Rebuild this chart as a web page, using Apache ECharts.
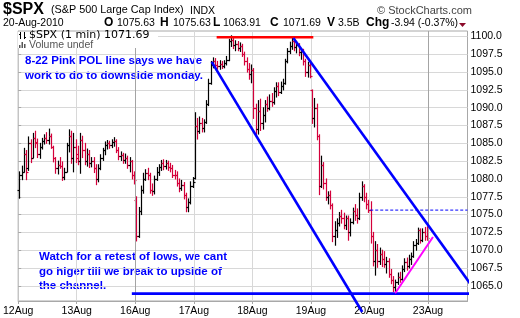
<!DOCTYPE html>
<html><head><meta charset="utf-8">
<script src="https://cdn.jsdelivr.net/npm/echarts@6/dist/echarts.min.js"></script>
<style>html,body{margin:0;padding:0;background:#fff}#c{width:520px;height:318px}</style>
</head><body><div id="c"></div>
<script>
// ---- data ----
const dayLabels = ['12Aug','13Aug','16Aug','17Aug','18Aug','19Aug','20Aug','23Aug'];
const minutesPerDay = 390, barMinutes = 15;
// 15-minute bars [open, close, low, high]
const aug12 = [[1078.5,1080.5,1077.3,1081],[1080.5,1081,1079.9,1081.8],[1081,1083.5,1081,1084.3],[1083.5,1081,1079.9,1084],[1081.5,1085,1081.2,1085.9],[1085,1083,1082.3,1085.5],[1083,1085.8,1083,1086.4],[1085.8,1085,1084.4,1086.7],[1085.2,1083.5,1083,1085.6],[1083.5,1084.5,1082.9,1085],[1084.5,1085.3,1084.2,1085.7],[1085.3,1085.8,1084.9,1086.2],[1085.8,1085.5,1085,1086.5],[1085.5,1086,1084.9,1087],[1086,1084.5,1084.3,1086.3],[1084.5,1083,1082.4,1084.6],[1083,1081.5,1080.8,1083],[1081.5,1082,1080.7,1082.5],[1082,1081.8,1081.5,1083],[1081.8,1080.3,1079.8,1082.4],[1080.3,1081,1079.9,1081.5],[1081,1084.8,1081,1085],[1084.8,1086,1083.8,1086.9],[1086,1083,1082.2,1086.7],[1083,1084.5,1081,1086.4],[1084.5,1083,1082.3,1085.5]];
const aug13 = [[1083.5,1082.5,1082,1084.6],[1082.5,1085.5,1080.8,1086.4],[1085.5,1084,1083,1086],[1084,1082.5,1082,1085],[1082.5,1083.5,1081.8,1084.2],[1083.5,1082.2,1081.6,1084],[1082.2,1082.5,1081.7,1083],[1082.5,1081.5,1080.9,1083],[1081.5,1080,1079.2,1082],[1080,1081.5,1079.6,1082],[1081.5,1083,1081.3,1083.4],[1083,1084,1082.6,1084.3],[1084,1084.8,1083.4,1085.2],[1084.8,1085,1084.2,1085.4],[1085,1084.8,1084.3,1085.3],[1084.8,1085.2,1084.4,1085.5],[1085.2,1085.3,1084.6,1085.8],[1085.3,1084,1083.7,1085.5],[1084,1083.2,1082.7,1084.4],[1083.2,1083.3,1082.6,1083.8],[1083.3,1082.6,1082.2,1083.6],[1082.6,1083,1082.2,1083.5],[1083,1082,1081.5,1083.2],[1082,1082.5,1081,1083],[1082.5,1080.5,1080,1082.6],[1080.5,1079.8,1079.3,1081]];
const aug16 = [[1077,1072,1071.3,1077.5],[1072,1075.5,1071.8,1076],[1075.5,1078.5,1075,1079],[1078.5,1080,1078,1080.8],[1080,1080.8,1079.8,1081.3],[1080.8,1080.5,1079.9,1081.5],[1080.5,1078.5,1078,1080.8],[1078.5,1078.3,1077.7,1079.3],[1078.3,1080,1077.9,1080.4],[1080,1081,1079.8,1081.6],[1081,1081.7,1080.5,1082],[1081.7,1082.2,1081.2,1082.6],[1082.2,1081.8,1081.3,1082.7],[1081.8,1082.3,1081.4,1082.6],[1082.3,1081.7,1081.2,1082.5],[1081.7,1081.5,1081,1082.2],[1081.5,1080.6,1080.2,1081.9],[1080.6,1080.5,1080,1081.2],[1080.5,1079.5,1079,1081],[1079.5,1078.8,1078.2,1080],[1078.8,1079.2,1078.4,1079.8],[1079.2,1077.8,1077.2,1079.5],[1077.8,1076,1075.4,1078],[1076,1076.8,1075.4,1077.2],[1076.8,1079,1076.5,1079.6],[1079,1079.6,1078.8,1080.2]];
const aug17 = [[1080.2,1087.5,1080,1089.3],[1087.5,1086.8,1085.6,1088.5],[1086.8,1087.8,1086.4,1088.7],[1087.8,1087.2,1086.6,1088.5],[1087.2,1088,1086.6,1088.3],[1088,1090.5,1087.8,1091],[1090.5,1093.5,1090.3,1094],[1093.5,1096,1093.3,1096.5],[1096,1096.5,1095.6,1097],[1096.5,1096,1095.5,1096.9],[1096,1095.8,1095.4,1096.5],[1095.8,1096.2,1095.4,1096.6],[1096.2,1095.9,1095.5,1096.5],[1095.9,1096.3,1095.6,1096.6],[1096.3,1096.7,1096,1097.2],[1096.7,1099.3,1096.6,1099.6],[1099.3,1099.5,1098.6,1100.1],[1099.5,1098.8,1098.3,1099.8],[1098.8,1099,1098,1099.4],[1099,1098.4,1098,1099.3],[1098.4,1098.6,1097.9,1099.1],[1098.6,1097.5,1097.2,1098.9],[1097.5,1096.5,1096,1097.8],[1096.5,1095.5,1095,1097],[1095.5,1094.8,1094,1096.2],[1094.8,1095.3,1093.5,1096]];
const aug18 = [[1095.3,1090,1088.5,1095.5],[1090,1087,1086,1090.5],[1087,1089.5,1086.3,1091],[1089.5,1087.8,1086.8,1091.2],[1087.8,1089,1087,1090],[1089,1090.5,1088,1091],[1090.5,1090,1089.5,1091.5],[1090,1091,1089.7,1091.8],[1091,1090.8,1090.2,1092],[1090.8,1092.3,1090.5,1092.8],[1092.3,1093,1091.5,1093.5],[1093,1092.2,1091.7,1093.5],[1092.2,1093,1092,1093.6],[1093,1093.5,1092.5,1094],[1093.5,1096.5,1093.3,1096.8],[1096.5,1098,1096.3,1098.3],[1098,1098.6,1097.6,1099.2],[1098.6,1099.3,1098.2,1099.8],[1099.3,1098.5,1098,1099.9],[1098.5,1098.8,1097.7,1099],[1098.8,1097.8,1097.3,1099],[1097.8,1098,1096.8,1098.3],[1098,1096.5,1096,1098.2],[1096.5,1095,1094.4,1096.8],[1095,1096,1094.3,1096.4],[1096,1094.5,1094.2,1096.2]];
const aug19 = [[1092.5,1088.5,1087.8,1092.5],[1088.5,1090,1087.3,1091.3],[1090,1086,1085.5,1090.5],[1086,1079,1077.8,1086.2],[1079,1082,1078.8,1083.2],[1082,1079.5,1078.6,1082.3],[1079.5,1077.5,1077,1080],[1077.5,1077.8,1076.5,1078.2],[1077.8,1076.3,1075.8,1078.3],[1076.3,1072,1071.2,1076.5],[1072,1072.8,1070.7,1074],[1072.8,1073.8,1071.8,1074.4],[1073.8,1074.8,1073.4,1075.3],[1074.8,1074.5,1073.8,1075.6],[1074.5,1073.5,1073,1075.2],[1073.5,1074.5,1072.9,1074.8],[1074.5,1072.5,1071.4,1074.8],[1072.5,1074,1072,1074.4],[1074,1075.5,1073.7,1075.9],[1075.5,1075,1074.2,1076.4],[1075,1074.5,1073.8,1075.8],[1074.5,1077.5,1074.3,1078],[1077.5,1079,1077,1079.6],[1079,1077.5,1076.8,1079.2],[1077.5,1076.5,1075.8,1078],[1076.5,1075.63,1075.3,1077]];
const aug20 = [[1075.63,1072,1071,1076.8],[1072,1068.5,1067.8,1072.5],[1068.5,1070,1066.5,1071.2],[1070,1068.5,1067.6,1070.8],[1068.5,1069.5,1068,1070.3],[1069.5,1068.8,1067.7,1070],[1068.8,1068,1067.6,1069.8],[1068,1068.5,1066.8,1069],[1068.5,1066.7,1066.2,1068.8],[1066.7,1065.8,1065.3,1067.3],[1065.8,1064.8,1064.2,1066.3],[1064.8,1065.5,1063.91,1065.8],[1065.5,1066.3,1065.2,1066.8],[1066.3,1066,1065.5,1066.9],[1066,1067.3,1065.8,1067.8],[1067.3,1068.3,1067,1068.8],[1068.3,1067.8,1067.2,1068.9],[1067.8,1068.8,1067.5,1069.3],[1068.8,1069.2,1068,1069.6],[1069.2,1070.8,1069,1071.2],[1070.8,1071,1070,1071.5],[1071,1072.8,1070.8,1073.1],[1072.8,1071.5,1071,1073],[1071.5,1072.6,1071.2,1073],[1072.6,1072,1071.4,1073.2],[1072,1071.69,1071.4,1073.3]];
const sessions = [aug12, aug13, aug16, aug17, aug18, aug19, aug20];
const priceTicks = [1065,1067.5,1070,1072.5,1075,1077.5,1080,1082.5,1085,1087.5,1090,1092.5,1095,1097.5,1100];
// annotation lines: [minuteIndex, price]
const redTopLine = [[1322,1099.9],[1966,1099.9]];
const channelLow = [[1289,1096.43],[2292,1061.32]];
const channelHigh = [[1833,1099.8],[3022,1064.97]];
const supportLine = [[757,1063.9],[3022,1063.9]];
const pinkLine = [[2511,1063.95],[2763,1071.85]];
const prevCloseLine = [[2345,1075.63],[2993,1075.63]];
const weekStarts = [780, 2730];

// ---- build ----
const bars = [];
sessions.forEach((day, d) => day.forEach((b, i) => {
  bars.push([d * minutesPerDay + i * barMinutes + barMinutes / 2, b[0], b[1], b[2], b[3]]);
}));
const dayStarts = dayLabels.map((_, i) => i * minutesPerDay);

const FONT = '"Liberation Sans", Arial, sans-serif';
const chart = echarts.init(document.getElementById('c'), null, {renderer: 'canvas'});

function lineSeries(data, color, width, type) {
  return {type: 'line', data, symbol: 'none', clip: false, silent: true, z: 5,
    lineStyle: {color, width, type: type || 'solid'}, animation: false};
}
function seg(x1, y1, x2, y2, color) {
  return {type: 'line', z: 100, shape: {x1, y1, x2, y2}, style: {stroke: color, lineWidth: 1}};
}

const option = {
  animation: false,
  grid: {left: 17, right: 52.5, top: 31, bottom: 17, show: true, borderColor: '#a8a8a8', borderWidth: 1},
  xAxis: {
    type: 'value', min: 0, max: 2993,
    axisLine: {show: true, lineStyle: {color: '#a8a8a8'}},
    axisTick: {show: true, customValues: dayStarts, length: 3, lineStyle: {color: '#a8a8a8'}},
    axisLabel: {customValues: dayStarts, formatter: v => dayLabels[Math.round(v / minutesPerDay)] || '',
      fontFamily: FONT, fontSize: 10.5, color: '#000', margin: 5},
    splitLine: {show: true, lineStyle: {color: '#d8d8d8', width: 1}}
  },
  yAxis: {
    type: 'value', position: 'right', min: 1062.87, max: 1100.77, scale: true,
    axisLine: {show: true, lineStyle: {color: '#c4c4c4'}},
    axisTick: {show: true, customValues: priceTicks, length: 3, lineStyle: {color: '#a8a8a8'}},
    axisLabel: {customValues: priceTicks, formatter: v => v.toFixed(1), fontFamily: FONT, fontSize: 10.5, color: '#000', margin: 3},
    splitLine: {show: true, lineStyle: {color: '#d8d8d8', width: 1}}
  },
  series: [
    {
      type: 'custom', data: bars, z: 3, silent: true,
      encode: {x: 0, y: [1, 2, 3, 4]},
      renderItem(params, api) {
        const x = api.value(0), o = api.value(1), c = api.value(2), l = api.value(3), h = api.value(4);
        const pl = api.coord([x, l]), ph = api.coord([x, h]), po = api.coord([x, o]), pc = api.coord([x, c]);
        const px = Math.round(pl[0]) + 0.5;
        const color = c >= o ? '#000000' : '#d4003b';
        const st = {stroke: color, lineWidth: 1.2};
        return {type: 'group', children: [
          {type: 'line', shape: {x1: px, y1: ph[1] - 0.5, x2: px, y2: pl[1] + 0.5}, style: st},
          {type: 'line', shape: {x1: px - 2, y1: Math.round(po[1]) + 0.5, x2: px, y2: Math.round(po[1]) + 0.5}, style: st},
          {type: 'line', shape: {x1: px, y1: Math.round(pc[1]) + 0.5, x2: px + 2, y2: Math.round(pc[1]) + 0.5}, style: st}
        ]};
      },
      markLine: {silent: true, symbol: 'none', label: {show: false},
        lineStyle: {color: '#a4a4a4', width: 1, type: 'solid'},
        data: weekStarts.map(v => ({xAxis: v}))}
    },
    lineSeries(redTopLine, '#ff0000', 2.6),
    lineSeries(channelLow, '#0000ff', 2.6),
    lineSeries(channelHigh, '#0000ff', 2.6),
    lineSeries(supportLine, '#0000ff', 2.6),
    lineSeries(pinkLine, '#ff00ff', 2),
    lineSeries(prevCloseLine, '#0000ff', 1, [3, 2])
  ],
  graphic: [
    {type: 'text', left: 3, top: 2, style: {text: '$SPX', font: 'bold 16px ' + FONT, fill: '#000'}},
    {type: 'text', left: 51, top: 5, style: {text: '(S&P 500 Large Cap Index)', font: '10.8px ' + FONT, fill: '#000'}},
    {type: 'text', left: 190, top: 6, style: {text: 'INDX', font: '10.5px ' + FONT, fill: '#000'}},
    {type: 'text', left: 377, top: 5, style: {text: '\u00A9 StockCharts.com', font: '11px ' + FONT, fill: '#444'}},
    {type: 'text', left: 3, top: 18, style: {text: '20-Aug-2010', font: '10.5px ' + FONT, fill: '#000'}},
    {type: 'text', left: 104, top: 17, style: {text: 'O', font: 'bold 12px ' + FONT, fill: '#000'}},
    {type: 'text', left: 117, top: 18, style: {text: '1075.63', font: '10.5px ' + FONT, fill: '#000'}},
    {type: 'text', left: 160, top: 17, style: {text: 'H', font: 'bold 12px ' + FONT, fill: '#000'}},
    {type: 'text', left: 173, top: 18, style: {text: '1075.63', font: '10.5px ' + FONT, fill: '#000'}},
    {type: 'text', left: 213, top: 17, style: {text: 'L', font: 'bold 12px ' + FONT, fill: '#000'}},
    {type: 'text', left: 223, top: 18, style: {text: '1063.91', font: '10.5px ' + FONT, fill: '#000'}},
    {type: 'text', left: 270, top: 17, style: {text: 'C', font: 'bold 12px ' + FONT, fill: '#000'}},
    {type: 'text', left: 283, top: 18, style: {text: '1071.69', font: '10.5px ' + FONT, fill: '#000'}},
    {type: 'text', left: 327, top: 17, style: {text: 'V', font: 'bold 12px ' + FONT, fill: '#000'}},
    {type: 'text', left: 338, top: 18, style: {text: '3.5B', font: '10.5px ' + FONT, fill: '#000'}},
    {type: 'text', left: 366, top: 17, style: {text: 'Chg', font: 'bold 12px ' + FONT, fill: '#000'}},
    {type: 'text', left: 391, top: 18, style: {text: '-3.94 (-0.37%)', font: '10.5px ' + FONT, fill: '#000'}},
    {type: 'polygon', shape: {points: [[459, 23], [466, 23], [462.5, 27]]}, style: {fill: '#8b0a2a'}},
    // legend inside plot (white box over gridlines)
    {type: 'rect', z: 90, shape: {x: 18, y: 32, width: 140, height: 16}, style: {fill: '#fff'}},
    seg(20.5, 32, 20.5, 39, '#000'), seg(19, 34.5, 20.5, 34.5, '#000'),
    seg(24.5, 32, 24.5, 39, '#000'), seg(24.5, 37.5, 26, 37.5, '#000'),
    {type: 'rect', z: 100, shape: {x: 19, y: 45, width: 1.5, height: 3}, style: {fill: '#555'}},
    {type: 'rect', z: 100, shape: {x: 21.5, y: 42, width: 1.5, height: 6}, style: {fill: '#555'}},
    {type: 'rect', z: 100, shape: {x: 24, y: 44, width: 1.5, height: 4}, style: {fill: '#555'}},
    {type: 'text', z: 100, left: 29, top: 30, style: {text: '$SPX (1 min) 1071.69', font: '11px "DejaVu Sans", Verdana, sans-serif', fill: '#000'}},
    {type: 'text', z: 100, left: 29, top: 40, style: {text: 'Volume undef', font: '10.5px ' + FONT, fill: '#555'}},
    // annotations
    {type: 'text', left: 25, top: 54, style: {text: '8-22 Pink POL line says we have\nwork to do to downside monday.', font: 'bold 11.5px ' + FONT, fill: '#0000ff', lineHeight: 14.5}},
    {type: 'text', left: 39, top: 250, style: {text: 'Watch for a retest of lows, we cant\ngo higer till we break to upside of\nthe channel.', font: 'bold 11.5px ' + FONT, fill: '#0000ff', lineHeight: 14.5}}
  ]
};
chart.setOption(option);
</script>
</body></html>
